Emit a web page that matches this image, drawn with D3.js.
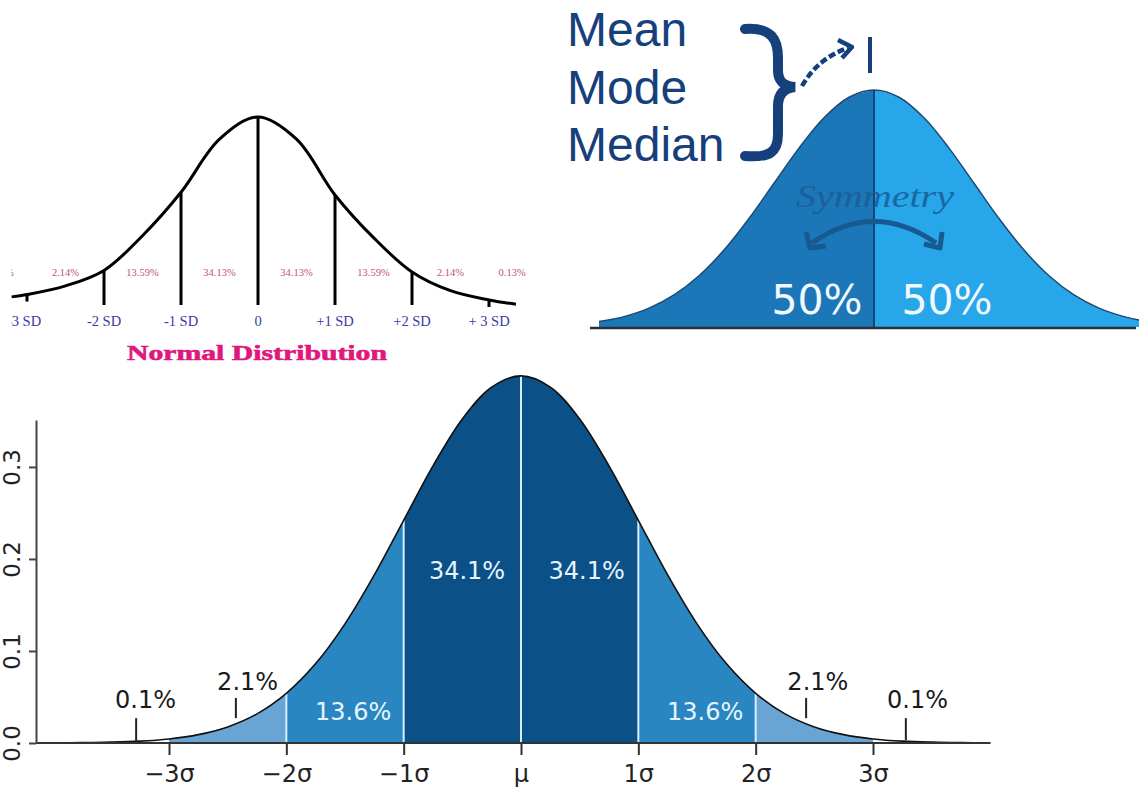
<!DOCTYPE html>
<html>
<head>
<meta charset="utf-8">
<script src="https://cdn.jsdelivr.net/npm/d3@7"></script>
<style>
  body { margin: 0; background: #fff; }
  svg { display: block; }
</style>
</head>
<body>
<svg id="chart" width="1139" height="805"></svg>
<script>
// standard normal density, read at quarter-sigma steps
const zGrid = [-4, -3.75, -3.5, -3.25, -3, -2.75, -2.5, -2.25, -2, -1.75, -1.5, -1.25, -1, -0.75, -0.5, -0.25,
               0, 0.25, 0.5, 0.75, 1, 1.25, 1.5, 1.75, 2, 2.25, 2.5, 2.75, 3, 3.25, 3.5, 3.75, 4];
const density = [0.0001, 0.0004, 0.0009, 0.0020, 0.0044, 0.0091, 0.0175, 0.0317, 0.0540, 0.0863, 0.1295, 0.1826,
                 0.2420, 0.3011, 0.3521, 0.3867, 0.3989, 0.3867, 0.3521, 0.3011, 0.2420, 0.1826, 0.1295, 0.0863,
                 0.0540, 0.0317, 0.0175, 0.0091, 0.0044, 0.0020, 0.0009, 0.0004, 0.0001];

// top-left hand drawn curve (relative height)
const handZ = [-3.2, -3, -2.5, -2, -1.5, -1, -0.5, 0, 0.5, 1, 1.5, 2, 2.5, 3, 3.35];
const handH = [0.068, 0.08, 0.125, 0.205, 0.385, 0.61, 0.885, 1, 0.885, 0.596, 0.375, 0.197, 0.1, 0.052, 0.03];
const sdLines = [-2, -1, 0, 1, 2];
const sdTicks = [-3, 3];
const sdLabels = ["-3 SD", "-2 SD", "-1 SD", "0", "+1 SD", "+2 SD", "+ 3 SD"];
const sdLabelZ = [-3, -2, -1, 0, 1, 2, 3];
const handPctZ = [-3.35, -2.5, -1.5, -0.5, 0.5, 1.5, 2.5, 3.3];
const handPct = ["0.13%", "2.14%", "13.59%", "34.13%", "34.13%", "13.59%", "2.14%", "0.13%"];

// top-right panel
const halfLabels = ["50%", "50%"];
const stats = ["Mean", "Mode", "Median"];

// bottom panel
const bands = [
  {from: -1, to: 1, color: "#0b5187"},
  {from: -2, to: -1, color: "#2a86c0"},
  {from: 1, to: 2, color: "#2a86c0"},
  {from: -3, to: -2, color: "#68a4d4"},
  {from: 2, to: 3, color: "#68a4d4"}
];
const sigmaTicks = [-3, -2, -1, 0, 1, 2, 3];
const sigmaLabels = ["\u22123\u03c3", "\u22122\u03c3", "\u22121\u03c3", "\u03bc", "1\u03c3", "2\u03c3", "3\u03c3"];
const yTicks = [0, 0.1, 0.2, 0.3];
const innerPct = [
  {z: -0.46, text: "34.1%", y: 0.178},
  {z: 0.56, text: "34.1%", y: 0.178},
  {z: -1.43, text: "13.6%", y: 0.025},
  {z: 1.57, text: "13.6%", y: 0.025}
];
const outerPct = [
  {z: -2.33, text: "2.1%", y: 0.058, lead: -2.43, l0: 0.027, l1: 0.049},
  {z: 2.53, text: "2.1%", y: 0.058, lead: 2.43, l0: 0.027, l1: 0.049},
  {z: -3.2, text: "0.1%", y: 0.038, lead: -3.28, l0: 0.001, l1: 0.027},
  {z: 3.38, text: "0.1%", y: 0.038, lead: 3.28, l0: 0.003, l1: 0.027}
];

const pts = zGrid.map((z, i) => ({z: z, d: density[i]}));
const svg = d3.select("#chart");

// ---------- panel 1: hand drawn ----------
const x1 = d3.scaleLinear().domain([-1, 1]).range([181, 335]);
const y1 = d3.scaleLinear().domain([0, 1]).range([310, 117]);
svg.append("clipPath").attr("id", "clip1").append("rect")
  .attr("x", 11).attr("y", 0).attr("width", 540).attr("height", 370);
const p1 = svg.append("g").attr("clip-path", "url(#clip1)");
const handPts = handZ.map((z, i) => ({z: z, h: handH[i]}));
const hAt = z => handPts.find(p => p.z === z).h;

p1.append("path")
  .datum(handPts)
  .attr("d", d3.line().x(d => x1(d.z)).y(d => y1(d.h)).curve(d3.curveCatmullRom))
  .attr("fill", "none").attr("stroke", "#000").attr("stroke-width", 3);

p1.selectAll(".sdline").data(sdLines).join("line")
  .attr("x1", d => x1(d)).attr("x2", d => x1(d))
  .attr("y1", d => y1(hAt(d))).attr("y2", 305)
  .attr("stroke", "#000").attr("stroke-width", 3);
p1.selectAll(".sdtick").data(sdTicks).join("line")
  .attr("x1", d => x1(d)).attr("x2", d => x1(d))
  .attr("y1", d => y1(hAt(d)) - 1).attr("y2", d => y1(hAt(d)) + 7)
  .attr("stroke", "#000").attr("stroke-width", 3);

p1.selectAll(".hpct").data(handPct).join("text")
  .attr("x", (d, i) => x1(handPctZ[i])).attr("y", 276)
  .attr("text-anchor", "middle")
  .style("font-family", "Liberation Serif, serif").style("font-size", "10.5px")
  .attr("fill", "#c05468").text(d => d);

p1.selectAll(".sdlab").data(sdLabels).join("text")
  .attr("x", (d, i) => x1(sdLabelZ[i]) - (i === 0 ? 3 : 0)).attr("y", 326)
  .attr("text-anchor", "middle")
  .style("font-family", "Liberation Serif, serif").style("font-size", "14.5px")
  .attr("fill", "#3a3aa6").text(d => d);

p1.append("text")
  .attr("x", 257).attr("y", 360).attr("text-anchor", "middle")
  .attr("textLength", 260).attr("lengthAdjust", "spacingAndGlyphs")
  .style("font-family", "Liberation Serif, serif").style("font-size", "21px").style("font-weight", "bold")
  .attr("stroke", "#e0177d").attr("stroke-width", 0.6)
  .attr("fill", "#e0177d").text("Normal Distribution");

// ---------- panel 2: symmetry ----------
const x2 = d3.scaleLinear().domain([-1, 1]).range([774, 974]);
const y2 = d3.scaleLinear().domain([0, 0.3989]).range([327, 90]);
const area2 = d3.area().x(d => x2(d.z)).y0(y2(0)).y1(d => y2(d.d)).curve(d3.curveCatmullRom);
const left2 = pts.filter(p => p.z >= -2.75 && p.z <= 0);
const right2 = pts.filter(p => p.z >= 0 && p.z <= 3);
svg.append("path").datum(left2).attr("d", area2).attr("fill", "#1b77b7");
svg.append("path").datum(right2).attr("d", area2).attr("fill", "#27a7ea");
svg.append("path").datum(pts.filter(p => p.z >= -2.75 && p.z <= 3))
  .attr("d", d3.line().x(d => x2(d.z)).y(d => y2(d.d)).curve(d3.curveCatmullRom))
  .attr("fill", "none").attr("stroke", "#1d4a75").attr("stroke-width", 1.5);
svg.append("line").attr("x1", x2(0)).attr("x2", x2(0)).attr("y1", y2(0.3989)).attr("y2", y2(0))
  .attr("stroke", "#144576").attr("stroke-width", 2);
svg.append("line").attr("x1", 590).attr("x2", 1136).attr("y1", y2(0) + 1).attr("y2", y2(0) + 1)
  .attr("stroke", "#2a2f38").attr("stroke-width", 2.5);

svg.selectAll(".half").data(halfLabels).join("text")
  .attr("x", (d, i) => x2(i === 0 ? -0.57 : 0.73)).attr("y", 314)
  .attr("text-anchor", "middle")
  .style("font-family", "DejaVu Sans, sans-serif").style("font-size", "41px")
  .attr("fill", "#f2f8ff").text(d => d);

svg.append("text")
  .attr("x", 875).attr("y", 207).attr("text-anchor", "middle")
  .attr("textLength", 158).attr("lengthAdjust", "spacingAndGlyphs")
  .style("font-family", "Liberation Serif, serif").style("font-size", "31px").style("font-style", "italic")
  .attr("fill", "#1a5d97").attr("opacity", 0.85).text("Symmetry");

const arcColor = "#175a92";
svg.append("path").attr("d", "M812,243 Q874,200 936,243")
  .attr("fill", "none").attr("stroke", arcColor).attr("stroke-width", 5);
svg.append("path").attr("d", "M806,232 L810,248 L826,246")
  .attr("fill", "none").attr("stroke", arcColor).attr("stroke-width", 5).attr("stroke-linejoin", "round");
svg.append("path").attr("d", "M924,244 L940,248 L942,232")
  .attr("fill", "none").attr("stroke", arcColor).attr("stroke-width", 5).attr("stroke-linejoin", "round");

const navy = "#16407c";
svg.selectAll(".stat").data(stats).join("text")
  .attr("x", 567).attr("y", (d, i) => 46 + i * 57.5)
  .style("font-family", "Liberation Sans, Arial, sans-serif").style("font-size", "48px")
  .attr("fill", navy).text(d => d);

svg.append("path")
  .attr("d", "M745,29 C772,27 778,40 778,58 L778,70 C778,82 784,86 795,87 C784,88 778,94 778,106 L778,134 C778,152 770,158 745,156")
  .attr("fill", "none").attr("stroke", navy).attr("stroke-width", 10).attr("stroke-linecap", "round");
svg.append("path").attr("d", "M802,86 Q818,58 848,48")
  .attr("fill", "none").attr("stroke", navy).attr("stroke-width", 4.5).attr("stroke-dasharray", "7,3");
svg.append("path").attr("d", "M838,40 L852,47 L842,58")
  .attr("fill", "none").attr("stroke", navy).attr("stroke-width", 4.5).attr("stroke-linejoin", "round");
svg.append("line").attr("x1", 870).attr("x2", 870).attr("y1", 37).attr("y2", 73)
  .attr("stroke", navy).attr("stroke-width", 4);

// ---------- panel 3: sigma bands ----------
const x3 = d3.scaleLinear().domain([-3, 3]).range([169, 873]);
const y3 = d3.scaleLinear().domain([0, 0.351]).range([743, 420]);
const area3 = d3.area().x(d => x3(d.z)).y0(y3(0)).y1(d => y3(d.d)).curve(d3.curveCatmullRom);

bands.forEach(b => {
  svg.append("path").datum(pts.filter(p => p.z >= b.from && p.z <= b.to))
    .attr("d", area3).attr("fill", b.color);
});
svg.selectAll(".div3").data(pts.filter(p => [-2, -1, 0, 1, 2].includes(p.z))).join("line")
  .attr("x1", d => x3(d.z)).attr("x2", d => x3(d.z))
  .attr("y1", d => y3(d.d)).attr("y2", y3(0))
  .attr("stroke", "#d6efff").attr("stroke-width", 2);
svg.append("path").datum(pts)
  .attr("d", d3.line().x(d => x3(d.z)).y(d => y3(d.d)).curve(d3.curveCatmullRom))
  .attr("fill", "none").attr("stroke", "#111").attr("stroke-width", 1.6);

const xAxis = svg.append("g").attr("transform", `translate(0,${y3(0)})`)
  .call(d3.axisBottom(x3).tickValues(sigmaTicks).tickFormat((d, i) => sigmaLabels[i])
    .tickSize(12).tickSizeOuter(0));
xAxis.select(".domain").remove();
xAxis.selectAll(".tick line").attr("stroke", "#333").attr("stroke-width", 2);
xAxis.selectAll(".tick text").attr("dy", 0).attr("y", 39)
  .style("font-family", "DejaVu Sans, sans-serif").style("font-size", "24px").attr("fill", "#222");
svg.append("line").attr("x1", 36).attr("x2", x3(4.0)).attr("y1", y3(0)).attr("y2", y3(0))
  .attr("stroke", "#333").attr("stroke-width", 2);

const yAxis = svg.append("g").attr("transform", "translate(36,0)")
  .call(d3.axisLeft(y3).tickValues(yTicks).tickFormat(d3.format(".1f")).tickSize(7).tickSizeOuter(0));
yAxis.select(".domain").attr("stroke", "#444").attr("stroke-width", 2);
yAxis.selectAll(".tick line").attr("stroke", "#444").attr("stroke-width", 2);
yAxis.selectAll(".tick text")
  .attr("x", null).attr("dy", null)
  .attr("transform", "translate(-16,0) rotate(-90)")
  .attr("text-anchor", "middle")
  .style("font-family", "DejaVu Sans, sans-serif").style("font-size", "23px").attr("fill", "#222");

svg.selectAll(".inpct").data(innerPct).join("text")
  .attr("x", d => x3(d.z)).attr("y", d => y3(d.y))
  .attr("text-anchor", "middle")
  .style("font-family", "DejaVu Sans, sans-serif").style("font-size", "24px")
  .attr("fill", "#e6f4ff").text(d => d.text);

svg.selectAll(".outpct").data(outerPct).join("text")
  .attr("x", d => x3(d.z)).attr("y", d => y3(d.y))
  .attr("text-anchor", "middle")
  .style("font-family", "DejaVu Sans, sans-serif").style("font-size", "24px")
  .attr("fill", "#1a1a1a").text(d => d.text);
svg.selectAll(".lead").data(outerPct).join("line")
  .attr("x1", d => x3(d.lead)).attr("x2", d => x3(d.lead))
  .attr("y1", d => y3(d.l0)).attr("y2", d => y3(d.l1))
  .attr("stroke", "#222").attr("stroke-width", 2);
</script>
</body>
</html>
